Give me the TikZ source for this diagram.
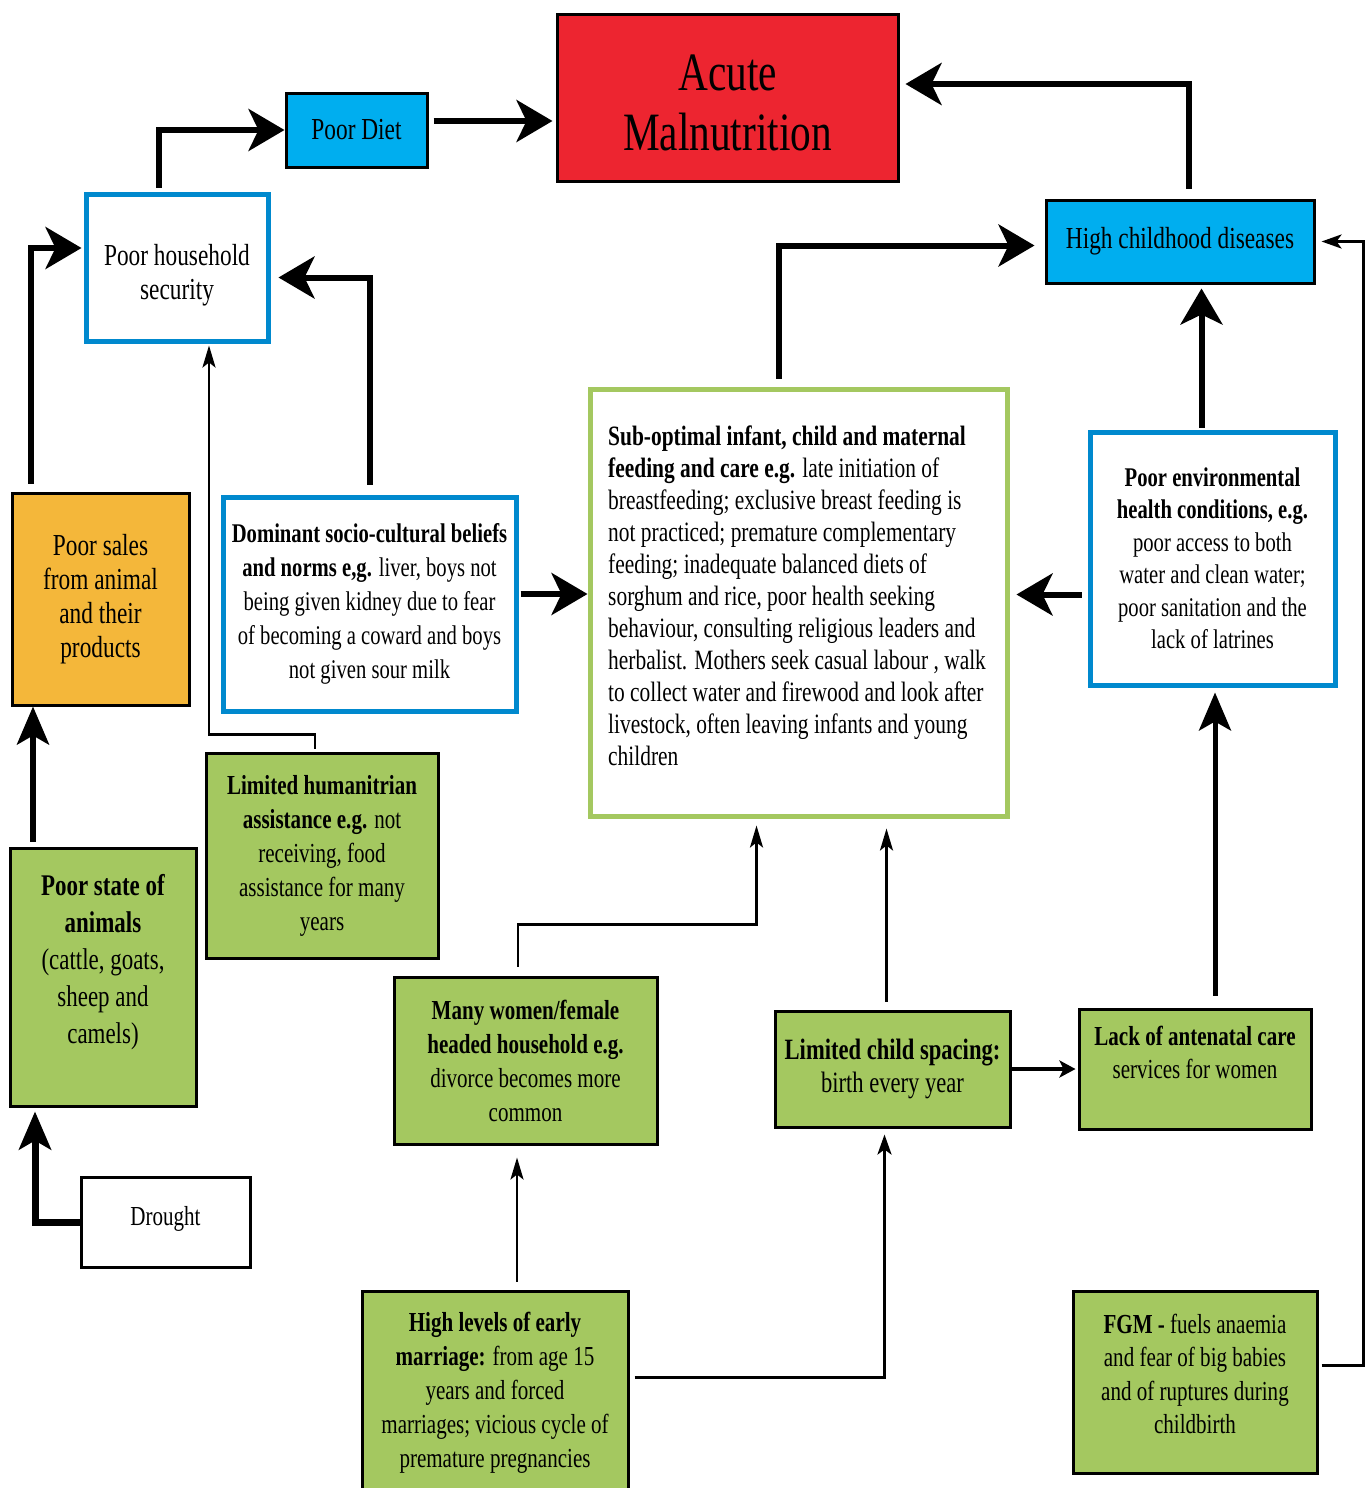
\documentclass[tikz,border=0pt]{standalone}
\usepackage{fontspec}
\setmainfont{Liberation Serif}[FakeStretch=0.765]
\usetikzlibrary{arrows.meta,calc}
\definecolor{redbox}{RGB}{237,37,48}
\definecolor{cyanbox}{RGB}{0,174,239}
\definecolor{blueline}{RGB}{0,137,206}
\definecolor{orangebox}{RGB}{244,183,58}
\definecolor{greenbox}{RGB}{164,200,96}
\newcommand\fsz[2]{\fontsize{#1}{#2}\selectfont}
\tikzset{
  nbox/.style={rectangle, inner sep=0pt, align=center, draw=black, line width=3pt},
  greenfill/.style={nbox, fill=greenbox},
  bluebox/.style={nbox, draw=blueline, line width=5pt, fill=white},
  bigarrow/.style={line width=6pt, -{Stealth[length=36pt,width=42pt,inset=10pt]}},
  bigarrowv/.style={line width=6pt, -{Stealth[length=38pt,width=32pt,inset=9pt]}},
  thinarrow/.style={line width=2.5pt, -{Stealth[length=22pt,width=13pt,inset=5pt]}},
  midthin/.style={line width=3pt, -{Stealth[length=20pt,width=14pt,inset=5pt]}},
  midarrow/.style={line width=3.5pt, -{Stealth[length=16pt,width=17pt,inset=4pt]}},
}
\begin{document}
\begin{tikzpicture}[x=1pt,y=-1pt]
\clip (0,0) rectangle (1371,1488);
\fill[white] (0,0) rectangle (1371,1488);

% nodes
\node[nbox, fill=redbox, minimum width=341pt, minimum height=166pt, font=\fsz{54}{60}] (acute) at (727.5,98) {\rule{0pt}{46pt}Acute\\Malnutrition};
\node[nbox, fill=cyanbox, minimum width=141pt, minimum height=74pt, font=\fsz{30.5}{34}] (diet) at (356.5,130) {Poor Diet};
\node[bluebox, minimum width=182pt, minimum height=147pt, font=\fsz{30.5}{34}] (hhs) at (177,267.5) {\rule{0pt}{36pt}Poor household\\security};
\node[nbox, fill=cyanbox, minimum width=268pt, minimum height=83pt, font=\fsz{30.5}{34}] (hcd) at (1180,241.5) {High childhood diseases};
\node[nbox, fill=orangebox, minimum width=177pt, minimum height=212pt, font=\fsz{30.5}{34}] (sales) at (100.5,599) {Poor sales\\from animal\\and their\\products};
\node[bluebox, minimum width=293pt, minimum height=214pt, font=\fsz{27}{34}] (dom) at (369.5,604) {\textbf{Dominant socio-cultural beliefs}\\\textbf{and norms e,g.} liver, boys not\\being given kidney due to fear\\of becoming a coward and boys\\not given sour milk};
\node[nbox, draw=greenbox, line width=5pt, fill=white, minimum width=417pt, minimum height=427pt] (sub) at (798.5,602.5) {};
\node[anchor=north west, align=left, inner sep=0pt, font=\fsz{28}{32}] (subtext) at (608,426) {\textbf{Sub-optimal infant, child and maternal}\\
\textbf{feeding and care e.g.} late initiation of\\
breastfeeding; exclusive breast feeding is\\
not practiced; premature complementary\\
feeding; inadequate balanced diets of\\
sorghum and rice, poor health seeking\\
behaviour, consulting religious leaders and\\
herbalist. Mothers seek casual labour , walk\\
to collect water and firewood and look after\\
livestock, often leaving infants and young\\
children};
\node[bluebox, minimum width=245pt, minimum height=253pt, font=\fsz{27}{32.5}] (env) at (1212.5,558.5) {\textbf{Poor environmental}\\\textbf{health conditions, e.g.}\\poor access to both\\water and clean water;\\poor sanitation and the\\lack of latrines};
\node[greenfill, minimum width=232pt, minimum height=205pt, font=\fsz{27.5}{34}] (hum) at (322,855.5) {\textbf{Limited humanitrian}\\\textbf{assistance e.g.} not\\receiving, food\\assistance for many\\years};
\node[greenfill, minimum width=186pt, minimum height=258pt, font=\fsz{30}{37}] (animals) at (103,977) {\textbf{Poor state of}\\\textbf{animals}\\(cattle, goats,\\sheep and\\camels)\\\mbox{}};
\node[nbox, fill=white, minimum width=169pt, minimum height=90pt, font=\fsz{27.5}{33}] (drought) at (165.5,1222) {Drought\\[-21pt]\mbox{}};
\node[greenfill, minimum width=263pt, minimum height=167pt, font=\fsz{27.5}{34}] (women) at (525.5,1060.5) {\textbf{Many women/female}\\\textbf{headed household e.g.}\\divorce becomes more\\common};
\node[greenfill, minimum width=235pt, minimum height=116pt, font=\fsz{29.5}{33}] (spacing) at (892.5,1069) {\textbf{Limited child spacing:}\\birth every year};
\node[greenfill, minimum width=232pt, minimum height=120pt, font=\fsz{27.5}{33}] (anc) at (1195,1069) {\textbf{Lack of antenatal care}\\services for women\\\mbox{}};
\node[greenfill, minimum width=266pt, minimum height=204pt, font=\fsz{27.5}{34}] (early) at (495,1393) {\textbf{High levels of early}\\\textbf{marriage:} from age 15\\years and forced\\marriages; vicious cycle of\\premature pregnancies};
\node[greenfill, minimum width=244pt, minimum height=182pt, font=\fsz{27.5}{33.5}] (fgm) at (1195,1382) {\textbf{FGM -} fuels anaemia\\and fear of big babies\\and of ruptures during\\childbirth\\[-17pt]\mbox{}};

% connectors
\coordinate (a0) at ([xshift=-18pt]hhs.north);
\draw[bigarrow, shorten <=4pt] (a0) |- (diet.west);
\coordinate (b0) at ([yshift=9pt]diet.east);
\draw[bigarrow, shorten <=5pt, shorten >=3pt] (b0) -- (b0 -| acute.west);
\coordinate (c0) at ([xshift=9pt]hcd.north);
\coordinate (c1) at ([yshift=14pt]acute.east);
\draw[bigarrow, shorten <=10pt, shorten >=6pt] (c0) |- (c1);
\coordinate (d0) at ([xshift=-20pt]sub.north);
\coordinate (d1) at ([yshift=-4pt]hcd.west);
\draw[bigarrow, shorten <=8pt, shorten >=10pt] (d0) |- (d1);
\coordinate (e0) at ([xshift=-11pt]env.north);
\draw[bigarrow, shorten <=2pt, shorten >=4pt] (e0) -- (e0 |- hcd.south);
\coordinate (f0) at ([yshift=-36pt]env.west);
\draw[bigarrow, shorten <=6pt, shorten >=7pt] (f0) -- (f0 -| sub.east);
\coordinate (g0) at ([yshift=10pt]dom.east);
\draw[bigarrow, shorten <=2pt] (g0) -- (g0 -| sub.west);
\coordinate (h1) at ([yshift=-10pt]hhs.east);
\draw[bigarrow, shorten <=10pt, shorten >=8pt] (dom.north) |- (h1);
\coordinate (i0) at ([xshift=-70pt]sales.north);
\coordinate (i1) at ([yshift=19.5pt]hhs.west);
\draw[bigarrow, shorten <=8pt, shorten >=2pt] (i0) |- (i1);
\coordinate (j0) at ([xshift=-70pt]animals.north);
\draw[bigarrowv, shorten <=5pt] (j0) -- (j0 |- sales.south);
\coordinate (k1) at ([xshift=-68pt]animals.south);
\draw[bigarrowv, line width=7pt, shorten >=4pt] (drought.west) -| (k1);
\coordinate (l0) at ([xshift=-7pt]hum.north);
\coordinate (l1) at ([xshift=32pt]hhs.south);
\draw[thinarrow, shorten <=3pt, shorten >=2pt] (l0) -- ++(0,-17) -| (l1);
\coordinate (m0) at ([xshift=-7.5pt]women.north);
\coordinate (m1) at ([xshift=-42pt]sub.south);
\draw[thinarrow, shorten <=9pt, shorten >=7pt] (m0) -- ++(0,-51) -| (m1);
\coordinate (n0) at ([xshift=-6pt]spacing.north);
\draw[thinarrow, shorten <=8pt, shorten >=10pt] (n0) -- (n0 |- sub.south);
\draw[midarrow, shorten >=2pt] (spacing.east) -- (anc.west);
\coordinate (p0) at ([xshift=20pt]anc.north);
\draw[bigarrowv, line width=5pt, shorten <=12pt, shorten >=5pt] (p0) -- (p0 |- env.south);
\coordinate (q0) at ([xshift=22pt]early.north);
\draw[thinarrow, shorten <=8pt, shorten >=12pt] (q0) -- (q0 |- women.south);
\coordinate (r0) at ([yshift=16pt]early.east);
\coordinate (r1) at ([xshift=-8pt]spacing.south);
\draw[midthin, shorten <=5pt, shorten >=6pt] (r0) -| (r1);
\coordinate (s0) at ([yshift=17pt]fgm.east);
\draw[midthin, shorten <=3pt, shorten >=6pt] (s0) -- ++(45,0) |- (hcd.east);
\end{tikzpicture}
\end{document}
